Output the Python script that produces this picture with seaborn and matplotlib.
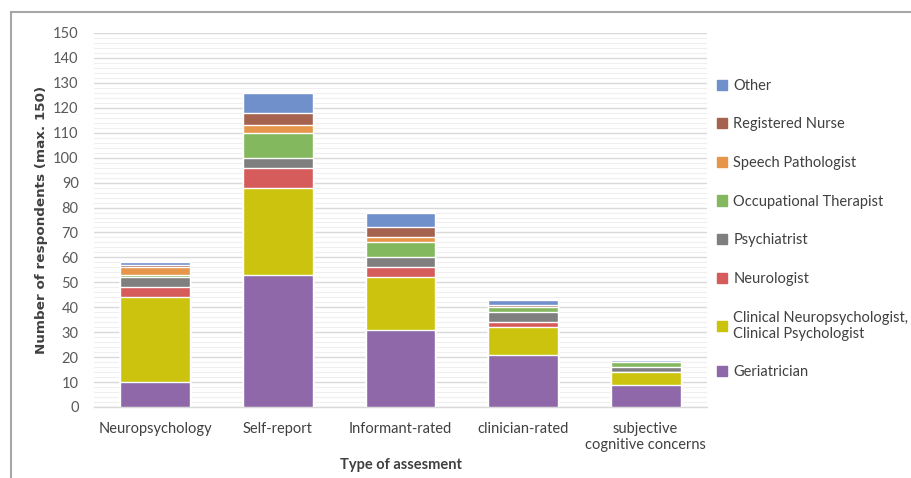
import matplotlib
matplotlib.use("Agg")
import matplotlib.pyplot as plt
import matplotlib.patches as mpatches
import numpy as np
import pandas as pd
import seaborn as sns

categories = ["Neuropsychology", "Self-report", "Informant-rated", "clinician-rated",
              "subjective\ncognitive concerns"]
series_names = ["Geriatrician", "Clinical Neuropsychologist,\nClinical Psychologist",
                "Neurologist", "Psychiatrist", "Occupational Therapist",
                "Speech Pathologist", "Registered Nurse", "Other"]
geriatrician = [10, 53, 31, 21, 9]
clin_neuropsych = [34, 35, 21, 11, 5]
neurologist = [4, 8, 4, 2, 0]
psychiatrist = [4, 4, 4, 4, 2]
occupational = [1, 10, 6, 2, 2]
speech = [3, 3, 2, 0, 0]
nurse = [1, 5, 4, 1, 0]
other = [1, 8, 6, 2, 1]
colors = ["#8E68A8", "#CBC30E", "#D65B5B", "#7F7F7F", "#84B85E",
          "#E6964B", "#A5634F", "#7090CC"]
y_ticks = list(range(0, 151, 10))

values = [geriatrician, clin_neuropsych, neurologist, psychiatrist,
          occupational, speech, nurse, other]

sns.set_theme(style="white")
plt.rcParams["font.family"] = ["Lato", "DejaVu Sans"]

fig = plt.figure(figsize=(9.12, 4.78), dpi=100)
ax = fig.add_axes([94 / 912, 1 - 407 / 478, (707 - 94) / 912, (407 - 33) / 478])

cum = np.cumsum(np.array(values), axis=0)
handles = []
for i in range(len(series_names) - 1, -1, -1):
    df = pd.DataFrame({"cat": categories, "top": cum[i]})
    sns.barplot(data=df, x="cat", y="top", color=colors[i], saturation=1,
                width=0.57, ax=ax, zorder=3)
    handles.append(mpatches.Patch(color=colors[i], label=series_names[i]))

ax.set_ylim(0, 150)
ax.set_xlim(-0.5, 4.5)
ax.set_yticks(y_ticks)
ax.set_yticks(np.arange(0, 151, 2), minor=True)
ax.grid(axis="y", which="major", color="#D9D9D9", linewidth=1.0, zorder=0)
ax.grid(axis="y", which="minor", color="#EFEFEF", linewidth=0.8, zorder=0)
ax.set_axisbelow(True)
for s in ["top", "right", "left"]:
    ax.spines[s].set_visible(False)
ax.spines["bottom"].set_color("#D9D9D9")
ax.spines["bottom"].set_linewidth(1.0)
ax.tick_params(axis="both", which="both", length=0)
ax.tick_params(axis="y", pad=11, labelsize=10.5, labelcolor="#595959")
ax.tick_params(axis="x", pad=11, labelsize=10.5, labelcolor="#404040")

ax.set_xlabel("Type of assesment", fontsize=10.5, fontweight="bold",
              color="#404040", labelpad=4)
ax.set_ylabel("Number of respondents (max. 150)", fontsize=9.7,
              fontweight="bold", color="#404040", family="DejaVu Sans", labelpad=4)

leg = ax.legend(handles=handles, loc="upper left", bbox_to_anchor=(1.0, 0.905),
                frameon=False, fontsize=10.5, labelspacing=1.69,
                handlelength=0.7, handleheight=0.7, handletextpad=0.4,
                borderaxespad=0.3)
for t in leg.get_texts():
    t.set_color("#404040")

border = mpatches.Rectangle((11 / 912, -0.2), 1.2, 1.2 - 12 / 478,
                            transform=fig.transFigure, fill=False,
                            edgecolor="#A6A6A6", linewidth=1.5, clip_on=False)
fig.patches.append(border)

fig.savefig("out.png", dpi=100, facecolor="white")
